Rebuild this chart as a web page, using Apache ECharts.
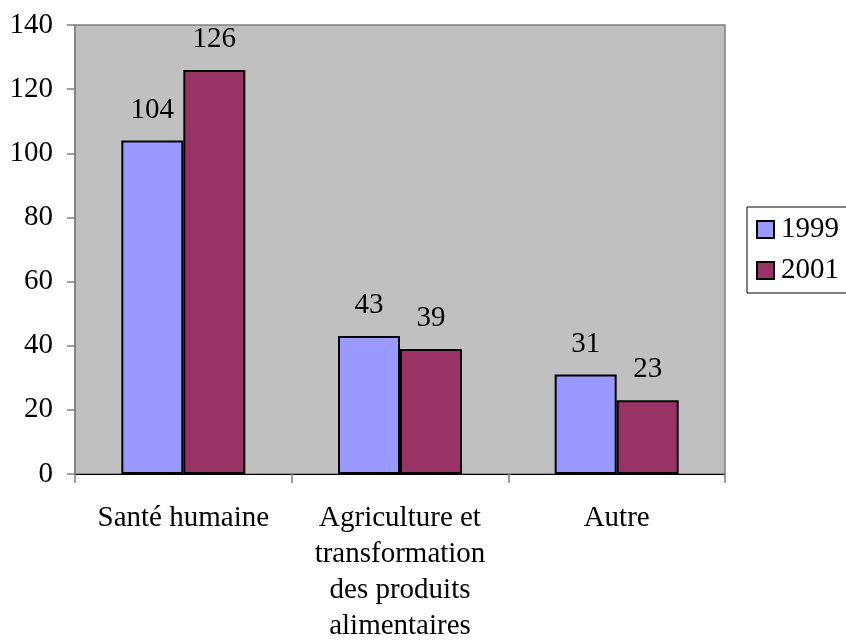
<!DOCTYPE html>
<html>
<head>
<meta charset="utf-8">
<script src="https://cdn.jsdelivr.net/npm/echarts@6/dist/echarts.min.js"></script>
<style>html,body{margin:0;padding:0;background:#fff;}#c{width:846px;height:641px;}</style>
</head>
<body>
<div id="c"></div>
<script>
const categories = ['Santé humaine', 'Agriculture et\ntransformation\ndes produits\nalimentaires', 'Autre'];
const values1999 = [104, 43, 31];
const values2001 = [126, 39, 23];
const yTicks = [0, 20, 40, 60, 80, 100, 120, 140];

const FONT = "'Liberation Serif', 'Times New Roman', serif";
const FS = 29;
const chart = echarts.init(document.getElementById('c'));
chart.setOption({
  animation: false,
  textStyle: { fontFamily: FONT, color: '#000' },
  grid: {
    left: 75, right: 121, top: 25, bottom: 167,
    show: true, backgroundColor: '#C0C0C0', borderColor: '#808080', borderWidth: 1.5,
    outerBoundsMode: 'none', containLabel: false
  },
  legend: {
    orient: 'vertical',
    left: 747, top: 207,
    padding: [8, 30, 8, 9],
    itemGap: 12,
    itemWidth: 17, itemHeight: 17,
    backgroundColor: '#fff',
    borderColor: '#000', borderWidth: 1,
    borderRadius: 0,
    icon: 'rect',
    itemStyle: { borderColor: '#000', borderWidth: 2 },
    textStyle: { fontFamily: FONT, fontSize: FS, color: '#000', padding: [0, 0, 0, 2] },
    data: ['1999', '2001']
  },
  xAxis: {
    type: 'category',
    data: categories,
    axisLine: { lineStyle: { color: '#000', width: 1 } },
    axisTick: { show: true, length: 9, lineStyle: { color: '#808080', width: 1.5 } },
    axisLabel: { fontFamily: FONT, fontSize: FS, color: '#000', lineHeight: 36, margin: 26, interval: 0 }
  },
  yAxis: {
    type: 'value',
    min: 0, max: 140, interval: 20,
    splitLine: { show: false },
    axisLine: { show: true, lineStyle: { color: '#808080', width: 1.5 } },
    axisTick: { show: true, length: 8, lineStyle: { color: '#808080', width: 1.5 } },
    axisLabel: {
      fontFamily: FONT, fontSize: FS, color: '#000', margin: 22,
      formatter: v => yTicks.includes(v) ? String(v) : ''
    }
  },
  series: [
    {
      name: '1999', type: 'bar', data: values1999,
      barWidth: 62, barGap: '0%',
      itemStyle: { color: '#9999FF', borderColor: '#000', borderWidth: 2 },
      label: { show: true, position: 'top', distance: 16, fontFamily: FONT, fontSize: FS, color: '#000' }
    },
    {
      name: '2001', type: 'bar', data: values2001,
      barWidth: 62, barGap: '0%',
      itemStyle: { color: '#993366', borderColor: '#000', borderWidth: 2 },
      label: { show: true, position: 'top', distance: 16, fontFamily: FONT, fontSize: FS, color: '#000' }
    }
  ]
});
</script>
</body>
</html>
